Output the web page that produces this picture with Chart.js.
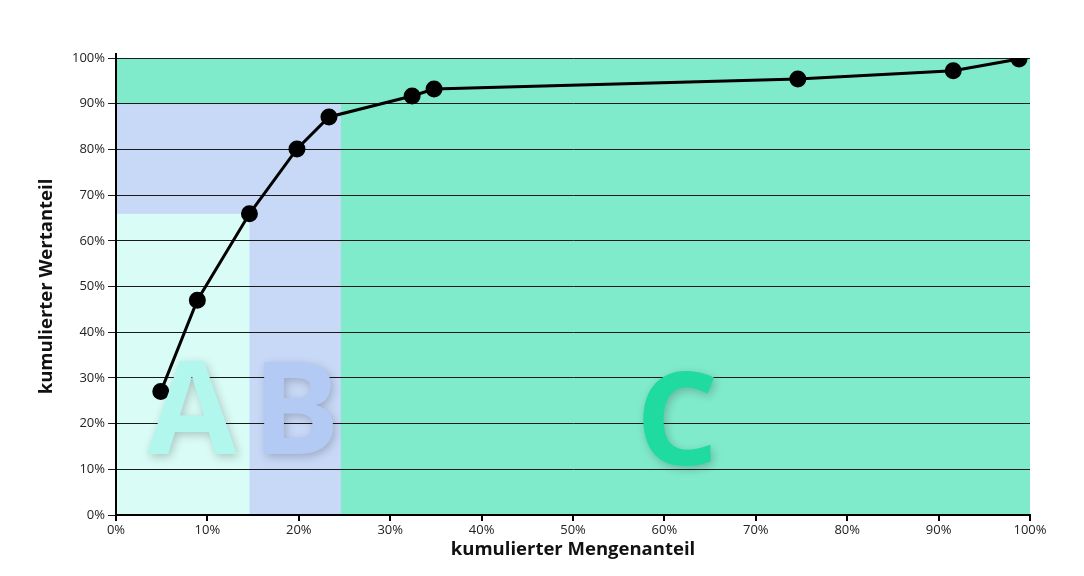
<!DOCTYPE html>
<html>
<head>
<meta charset="utf-8">
<script src="https://cdn.jsdelivr.net/npm/chart.js@4"></script>
<style>
  html, body { margin: 0; padding: 0; background: #fff; }
  #wrap { width: 1084px; height: 576px; }
</style>
</head>
<body>
<div id="wrap"><canvas id="abc"></canvas></div>
<script>
// cumulative quantity share (x) and value share (y), in %
const mengenanteil = [4.9, 8.9, 14.6, 19.8, 23.3, 32.4, 34.8, 74.6, 91.6, 98.8];
const wertanteil   = [27.0, 47.0, 65.9, 80.1, 87.1, 91.7, 93.2, 95.4, 97.2, 99.8];

// class borders: A up to 14.6% quantity / 65.9% value, B up to 24.6% / 89.9%
const grenzeMenge = [14.6, 24.6];
const grenzeWert  = [65.9, 89.9];
const klassen = ['A', 'B', 'C'];

const points = mengenanteil.map((x, i) => ({ x: x, y: wertanteil[i] }));

// coloured zones behind everything
const zonesPlugin = {
  id: 'zones',
  beforeDraw(chart) {
    const { ctx, chartArea: a, scales: { x, y } } = chart;
    ctx.save();
    ctx.fillStyle = '#80ebcb';
    ctx.fillRect(a.left, a.top, a.right - a.left, a.bottom - a.top);
    const xb = x.getPixelForValue(grenzeMenge[1]);
    const yb = y.getPixelForValue(grenzeWert[1]);
    ctx.fillStyle = '#c8d9f8';
    ctx.fillRect(a.left, yb, xb - a.left, a.bottom - yb);
    const xa = x.getPixelForValue(grenzeMenge[0]);
    const ya = y.getPixelForValue(grenzeWert[0]);
    ctx.fillStyle = '#dafcf6';
    ctx.fillRect(a.left, ya, xa - a.left, a.bottom - ya);
    ctx.restore();
  }
};

// big class letters, drawn on top of the line
const lettersPlugin = {
  id: 'letters',
  afterDatasetsDraw(chart) {
    const { ctx, chartArea: a, scales: { x, y } } = chart;
    const spots = [
      { x: 8.3, y: 13.4, color: '#b1f7ee' },
      { x: 19.7, y: 13.4, color: '#b3caf4' },
      { x: 61.4, y: 10.9, color: '#20dba0' }
    ];
    ctx.save();
    ctx.font = 'bold 130px "Open Sans"';
    ctx.textAlign = 'center';
    ctx.textBaseline = 'alphabetic';
    ctx.shadowColor = 'rgba(0,0,0,0.22)';
    ctx.shadowBlur = 10;
    ctx.shadowOffsetX = 2;
    ctx.shadowOffsetY = 3;
    klassen.forEach((k, i) => {
      ctx.fillStyle = spots[i].color;
      ctx.fillText(k, x.getPixelForValue(spots[i].x), y.getPixelForValue(spots[i].y));
    });
    ctx.restore();
    // y axis line pokes out a little above the plot
    ctx.save();
    ctx.strokeStyle = '#000';
    ctx.lineWidth = 2;
    ctx.beginPath();
    ctx.moveTo(a.left, a.top - 5);
    ctx.lineTo(a.left, a.top);
    ctx.stroke();
    ctx.restore();
  }
};

const tickFont = { family: '"Open Sans"', size: 13 };
const titleFont = { family: '"Open Sans"', size: 18.5, weight: 'bold' };

new Chart(document.getElementById('abc'), {
  type: 'scatter',
  data: {
    datasets: [{
      data: points,
      showLine: true,
      borderColor: '#000',
      backgroundColor: '#000',
      borderWidth: 3,
      pointRadius: 7,
      pointHoverRadius: 7,
      tension: 0
    }]
  },
  options: {
    responsive: true,
    maintainAspectRatio: false,
    animation: false,
    layout: { padding: { top: 58, right: 54, left: 0, bottom: 0 } },
    plugins: {
      legend: { display: false },
      tooltip: { enabled: false }
    },
    scales: {
      x: {
        type: 'linear',
        min: 0,
        max: 100,
        afterFit: s => { s.height = 61; },
        ticks: {
          stepSize: 10,
          color: '#222',
          font: tickFont,
          padding: 1,
          maxRotation: 0,
          callback: v => v + '%'
        },
        grid: { drawOnChartArea: false, color: '#000', lineWidth: 2, tickLength: 6 },
        border: { color: '#000', width: 2 },
        title: {
          display: true,
          text: 'kumulierter Mengenanteil',
          color: '#111',
          font: titleFont,
          padding: { top: 0, bottom: 15 }
        }
      },
      y: {
        type: 'linear',
        min: 0,
        max: 100,
        afterFit: s => { s.width = 116; },
        ticks: {
          stepSize: 10,
          color: '#222',
          font: tickFont,
          padding: 3,
          callback: v => v + '%'
        },
        grid: { color: '#1a1a1a', lineWidth: 1, tickLength: 8 },
        border: { color: '#000', width: 2 },
        title: {
          display: true,
          text: 'kumulierter Wertanteil',
          color: '#111',
          font: titleFont,
          padding: { top: 36, bottom: 0 }
        }
      }
    }
  },
  plugins: [zonesPlugin, lettersPlugin]
});
</script>
</body>
</html>
